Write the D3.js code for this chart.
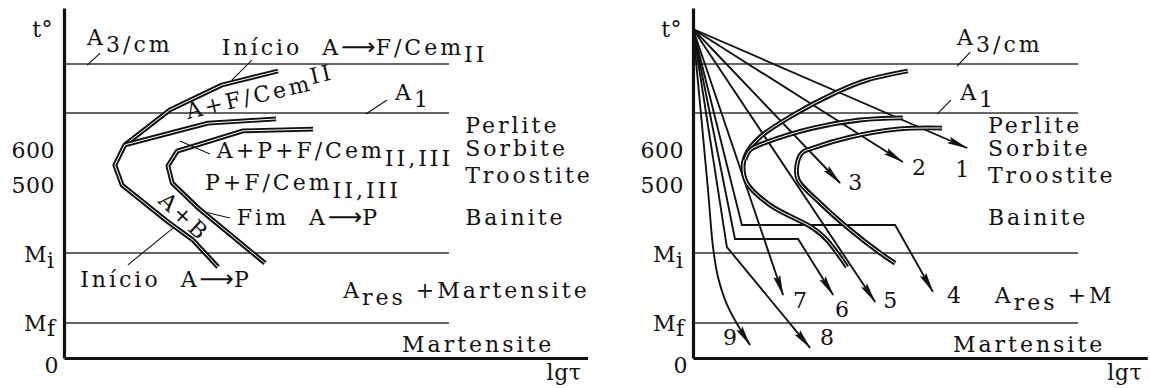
<!DOCTYPE html>
<html>
<head>
<meta charset="utf-8">
<script src="https://cdn.jsdelivr.net/npm/d3@7"></script>
<style>
  body { margin: 0; background: #fff; }
  svg text { font-family: "DejaVu Serif", serif; font-size: 22px; fill: #111; letter-spacing: 3px; white-space: pre; }
  svg text.num { letter-spacing: 0.5px; }
  svg text .arr { font-family: "DejaVu Sans", sans-serif; letter-spacing: 0; font-size: 24px; }
</style>
</head>
<body>
<svg id="chart" width="1150" height="388"></svg>
<script>
// ---- Temperatures (°C) ----
const criticalNames = ["A3", "A1", "Mi", "Mf"];
const criticalTemps = [840, 700, 300, 100];
const tempTickValues = [600, 500];
const tempTickLabels = ["600", "500"];
const coolingOrigin = [0, 940];

// ---- Left diagram: TTT curves, [lgτ, t°] ----
const startCurveL    = [[55.6,820],[41.0,780],[27.5,709],[15.8,609],[13.2,551],[15.1,494],[27.0,389],[33.5,337],[40.0,260]];
const pearliteStartL = [[55.1,683],[37.4,671],[15.8,609]];
const finishCurveL   = [[64.7,654],[46.5,649],[29.4,591],[27.0,549],[28.1,500],[34.8,429],[52.2,271]];

// ---- Right diagram: TTT curves with cooling paths ----
const startCurveR    = [[55.8,820],[45.2,794],[37.4,760],[25.2,689],[17.4,631],[14.0,586],[13.0,546],[14.0,500],[20.0,437],[31.2,371],[34.8,337],[40.0,260]];
const pearliteStartR = [[54.5,686],[43.4,680],[31.2,657],[19.2,617],[14.8,594],[13.5,566]];
const finishCurveR   = [[64.7,657],[53.0,654],[40.8,631],[31.2,600],[28.3,586],[27.0,551],[27.3,509],[33.0,443],[40.0,374],[48.6,300],[52.5,271]];

// Cooling paths after the common start point
const coolingNames = ["1", "2", "3", "4", "5", "6", "7", "8", "9"];
const cooling1 = [[71.2,600]];
const cooling2 = [[54.5,560]];
const cooling3 = [[38.2,500]];
const cooling4 = [[12.7,380],[52.5,380],[62.3,189]];
const cooling5 = [[47.3,160]];
const cooling6 = [[10.9,340],[27.3,340],[36.4,180]];
const cooling7 = [[23.4,180]];
const cooling8 = [[8.8,317],[30.4,29]];
const cooling9 = [[3.9,480],[5.2,317],[6.5,231],[9.1,146],[14.8,37]];
const coolingPaths = [cooling1, cooling2, cooling3, cooling4, cooling5, cooling6, cooling7, cooling8, cooling9];
const coolingSmooth = [false, false, false, false, false, false, false, false, true];
const coolingLabelLg = [68.1, 56.9, 40.3, 66.0, 49.4, 36.9, 26.0, 33.0, 7.8];
const coolingLabelT  = [517, 523, 480, 157, 143, 117, 143, 37, 37];

// ---- Layout ----
const svg = d3.select("#chart");
const unitPx = 3.85;            // pixels per lgτ unit
const y = d3.scaleLinear().domain([0, 1000]).range([358, 8]);

const defs = svg.append("defs");
defs.append("marker")
  .attr("id", "arrow").attr("viewBox", "-22 -5 24 10")
  .attr("refX", 0).attr("refY", 0)
  .attr("markerWidth", 24).attr("markerHeight", 10)
  .attr("markerUnits", "userSpaceOnUse").attr("orient", "auto")
  .append("path").attr("d", "M1,0 L-20,-3.6 L-17,0 L-20,3.6 Z").attr("fill", "#111");

function label(g, px, py, segs, opts = {}) {
  const t = g.append("text").attr("x", px).attr("y", py);
  if (opts.rotate) t.attr("transform", `rotate(${opts.rotate},${px},${py})`);
  if (opts.anchor) t.attr("text-anchor", opts.anchor);
  if (opts.cls) t.attr("class", opts.cls);
  let prev = 0;
  segs.forEach(s => {
    const [str, off = 0, cls] = s;
    const ts = t.append("tspan").attr("dy", off - prev).text(str);
    if (cls) ts.attr("class", cls);
    prev = off;
  });
  return t;
}

function drawPanel(x0, axisEnd, lgOffset) {
  const g = svg.append("g");
  const x = d3.scaleLinear().domain([0, 100]).range([x0, x0 + 100 * unitPx]);

  // critical temperature lines
  g.selectAll("line.crit").data(criticalTemps).join("line")
    .attr("x1", x(0)).attr("x2", x(100))
    .attr("y1", d => y(d)).attr("y2", d => y(d))
    .attr("stroke", (d, i) => i < 2 ? "#333" : "#666")
    .attr("stroke-width", (d, i) => i < 2 ? 1.3 : 1.8);

  // temperature axis
  const yAxis = d3.axisLeft(y).tickValues(tempTickValues)
    .tickFormat((d, i) => tempTickLabels[i]).tickSize(0).tickSizeOuter(0).tickPadding(9);
  const ya = g.append("g").attr("transform", `translate(${x0},0)`).call(yAxis);
  ya.select(".domain").attr("stroke", "#111").attr("stroke-width", 3.2);
  ya.selectAll("text").attr("class", "num").attr("dy", "0.42em");
  ya.attr("font-family", null).attr("font-size", null);

  // time axis
  const xa = d3.scaleLinear().domain([0, axisEnd]).range([x0, x0 + axisEnd * unitPx]);
  const xAxis = d3.axisBottom(xa).tickValues([]).tickSizeOuter(0);
  const xg = g.append("g").attr("transform", `translate(0,${y(0)})`).call(xAxis);
  xg.select(".domain").attr("stroke", "#111").attr("stroke-width", 3.2);

  label(g, x0 - 11, 37, [["t°"]], { anchor: "end", cls: "num" });
  label(g, x0 - 40, y(criticalTemps[2]) + 9, [["M"], ["i", 6]], { cls: "num" });
  label(g, x0 - 40, y(criticalTemps[3]) + 8, [["M"], ["f", 5]], { cls: "num" });
  label(g, x0 - 5, y(0) + 15, [["0"]], { anchor: "end", cls: "num" });
  label(g, xa(axisEnd) - lgOffset, 380, [["lgτ"]], { cls: "num" });
  return { g, x };
}

function doubleCurve(g, pts, x, curve) {
  const line = d3.line().x(d => x(d[0])).y(d => y(d[1])).curve(curve);
  g.append("path").attr("d", line(pts)).attr("fill", "none")
    .attr("stroke", "#111").attr("stroke-width", 4.8).attr("stroke-linejoin", "round");
  g.append("path").attr("d", line(pts)).attr("fill", "none")
    .attr("stroke", "#fff").attr("stroke-width", 1.0).attr("stroke-linejoin", "round");
}

function leader(g, x, a, b) {
  g.append("line").attr("x1", x(a[0])).attr("y1", y(a[1]))
    .attr("x2", x(b[0])).attr("y2", y(b[1]))
    .attr("stroke", "#111").attr("stroke-width", 1.1);
}

function phaseNames(g, x, lg) {
  label(g, x(lg), y(643), [["Perlite"]]);
  label(g, x(lg), y(577), [["Sorbite"]]);
  label(g, x(lg), y(500), [["Troostite"]]);
  label(g, x(lg), y(380), [["Bainite"]]);
}

// ---- Left panel ----
{
  const { g, x } = drawPanel(64, 136, 41);
  doubleCurve(g, startCurveL, x, d3.curveLinear);
  doubleCurve(g, pearliteStartL, x, d3.curveLinear);
  doubleCurve(g, finishCurveL, x, d3.curveLinear);

  label(g, x(6.0), y(894), [["A"], ["3/cm", 7]]);
  leader(g, x, [6.0, 837], [9.4, 871]);
  label(g, x(86.0), y(737), [["A"], ["1", 7]]);
  leader(g, x, [78.4, 697], [83.9, 737]);

  label(g, x(41.0), y(866), [["Início  A"], ["⟶", 0, "arr"], ["F/Cem"], ["II", 7]]);
  leader(g, x, [43.6, 794], [48.8, 851]);
  label(g, x(32.2), y(683), [["A+F/Cem"], ["II", -6]], { rotate: -13 });
  label(g, x(39.7), y(571), [["A+P+F/Cem"], ["II,III", 8]]);
  leader(g, x, [30.1, 620], [37.9, 583]);
  label(g, x(36.6), y(480), [["P+F/Cem"], ["II,III", 8]]);
  label(g, x(24.2), y(446), [["A+B"]], { rotate: 43 });
  leader(g, x, [16.6, 266], [28.3, 371]);
  label(g, x(4.2), y(203), [["Início  A"], ["⟶", 0, "arr"], ["P"]]);
  label(g, x(44.9), y(380), [["Fim  A"], ["⟶", 0, "arr"], ["P"]]);
  leader(g, x, [36.6, 417], [43.1, 400]);

  phaseNames(g, x, 104.2);
  label(g, x(72.5), y(171), [["A"], ["res", 7], [" +Martensite", 0]]);
  label(g, x(87.8), y(17), [["Martensite"]]);
}

// ---- Right panel ----
{
  const { g, x } = drawPanel(693, 118, 40);
  const line = d3.line().x(d => x(d[0])).y(d => y(d[1]));

  coolingPaths.forEach((p, i) => {
    const pts = [coolingOrigin, ...p];
    g.append("path")
      .attr("d", line.curve(coolingSmooth[i] ? d3.curveCatmullRom : d3.curveLinear)(pts))
      .attr("fill", "none").attr("stroke", "#111").attr("stroke-width", 1.9)
      .attr("stroke-linejoin", "miter").attr("marker-end", "url(#arrow)");
  });

  doubleCurve(g, startCurveR, x, d3.curveCatmullRom);
  doubleCurve(g, pearliteStartR, x, d3.curveCatmullRom);
  doubleCurve(g, finishCurveR, x, d3.curveCatmullRom);

  coolingNames.forEach((n, i) => label(g, x(coolingLabelLg[i]), y(coolingLabelT[i]), [[n]], { cls: "num" }));

  label(g, x(68.6), y(894), [["A"], ["3/cm", 7]]);
  leader(g, x, [68.6, 834], [72.0, 874]);
  label(g, x(69.4), y(737), [["A"], ["1", 7]]);
  leader(g, x, [63.4, 697], [67.0, 737]);

  phaseNames(g, x, 76.6);
  label(g, x(78.4), y(157), [["A"], ["res", 7], [" +M", 0]]);
  label(g, x(67.5), y(17), [["Martensite"]]);
}
</script>
</body>
</html>
